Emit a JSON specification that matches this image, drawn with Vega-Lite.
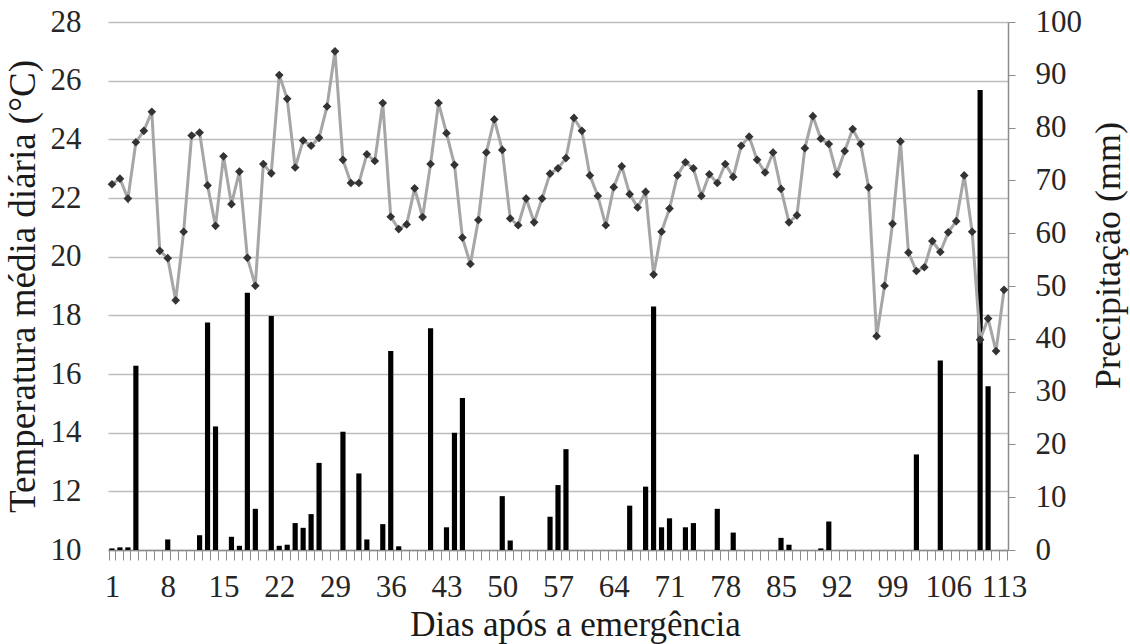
{
  "$schema": "https://vega.github.io/schema/vega-lite/v6.json",
  "width": 900,
  "height": 528,
  "autosize": "none",
  "padding": {"left": 108, "top": 22, "right": 122, "bottom": 94},
  "background": "white",
  "config": {
    "font": "Liberation Serif",
    "view": {"stroke": null},
    "axis": {"labelColor": "#262626", "titleColor": "#1a1a1a", "titleFontWeight": "normal", "labelFont": "Liberation Serif", "titleFont": "Liberation Serif"}
  },
  "data": {
    "values": [
      {"dia": 1, "temp": 22.47, "prec": 0.3},
      {"dia": 2, "temp": 22.66, "prec": 0.5},
      {"dia": 3, "temp": 21.98, "prec": 0.5},
      {"dia": 4, "temp": 23.9, "prec": 34.9},
      {"dia": 5, "temp": 24.29, "prec": 0},
      {"dia": 6, "temp": 24.94, "prec": 0},
      {"dia": 7, "temp": 20.2, "prec": 0},
      {"dia": 8, "temp": 19.95, "prec": 2.0},
      {"dia": 9, "temp": 18.51, "prec": 0},
      {"dia": 10, "temp": 20.85, "prec": 0},
      {"dia": 11, "temp": 24.13, "prec": 0},
      {"dia": 12, "temp": 24.23, "prec": 2.8},
      {"dia": 13, "temp": 22.43, "prec": 43.1},
      {"dia": 14, "temp": 21.05, "prec": 23.4},
      {"dia": 15, "temp": 23.42, "prec": 0},
      {"dia": 16, "temp": 21.79, "prec": 2.5},
      {"dia": 17, "temp": 22.9, "prec": 0.8},
      {"dia": 18, "temp": 19.96, "prec": 48.7},
      {"dia": 19, "temp": 19.01, "prec": 7.8},
      {"dia": 20, "temp": 23.16, "prec": 0},
      {"dia": 21, "temp": 22.84, "prec": 44.3},
      {"dia": 22, "temp": 26.19, "prec": 0.8},
      {"dia": 23, "temp": 25.38, "prec": 1.0},
      {"dia": 24, "temp": 23.04, "prec": 5.1},
      {"dia": 25, "temp": 23.96, "prec": 4.2},
      {"dia": 26, "temp": 23.78, "prec": 6.8},
      {"dia": 27, "temp": 24.05, "prec": 16.5},
      {"dia": 28, "temp": 25.12, "prec": 0},
      {"dia": 29, "temp": 27.0, "prec": 0},
      {"dia": 30, "temp": 23.3, "prec": 22.4},
      {"dia": 31, "temp": 22.51, "prec": 0},
      {"dia": 32, "temp": 22.51, "prec": 14.5},
      {"dia": 33, "temp": 23.49, "prec": 2.0},
      {"dia": 34, "temp": 23.26, "prec": 0},
      {"dia": 35, "temp": 25.24, "prec": 4.9},
      {"dia": 36, "temp": 21.36, "prec": 37.7},
      {"dia": 37, "temp": 20.94, "prec": 0.7},
      {"dia": 38, "temp": 21.1, "prec": 0},
      {"dia": 39, "temp": 22.33, "prec": 0},
      {"dia": 40, "temp": 21.35, "prec": 0},
      {"dia": 41, "temp": 23.16, "prec": 42.0},
      {"dia": 42, "temp": 25.24, "prec": 0},
      {"dia": 43, "temp": 24.21, "prec": 4.3},
      {"dia": 44, "temp": 23.13, "prec": 22.2},
      {"dia": 45, "temp": 20.65, "prec": 28.8},
      {"dia": 46, "temp": 19.75, "prec": 0},
      {"dia": 47, "temp": 21.25, "prec": 0},
      {"dia": 48, "temp": 23.55, "prec": 0},
      {"dia": 49, "temp": 24.68, "prec": 0},
      {"dia": 50, "temp": 23.64, "prec": 10.2},
      {"dia": 51, "temp": 21.3, "prec": 1.8},
      {"dia": 52, "temp": 21.07, "prec": 0},
      {"dia": 53, "temp": 21.98, "prec": 0},
      {"dia": 54, "temp": 21.17, "prec": 0},
      {"dia": 55, "temp": 21.98, "prec": 0},
      {"dia": 56, "temp": 22.83, "prec": 6.3},
      {"dia": 57, "temp": 23.01, "prec": 12.3},
      {"dia": 58, "temp": 23.36, "prec": 19.1},
      {"dia": 59, "temp": 24.73, "prec": 0},
      {"dia": 60, "temp": 24.29, "prec": 0},
      {"dia": 61, "temp": 22.77, "prec": 0},
      {"dia": 62, "temp": 22.07, "prec": 0},
      {"dia": 63, "temp": 21.07, "prec": 0},
      {"dia": 64, "temp": 22.37, "prec": 0},
      {"dia": 65, "temp": 23.08, "prec": 0},
      {"dia": 66, "temp": 22.13, "prec": 8.4},
      {"dia": 67, "temp": 21.68, "prec": 0},
      {"dia": 68, "temp": 22.21, "prec": 12.0},
      {"dia": 69, "temp": 19.39, "prec": 46.1},
      {"dia": 70, "temp": 20.85, "prec": 4.3},
      {"dia": 71, "temp": 21.64, "prec": 6.0},
      {"dia": 72, "temp": 22.77, "prec": 0},
      {"dia": 73, "temp": 23.22, "prec": 4.3},
      {"dia": 74, "temp": 23.01, "prec": 5.1},
      {"dia": 75, "temp": 22.07, "prec": 0},
      {"dia": 76, "temp": 22.81, "prec": 0},
      {"dia": 77, "temp": 22.51, "prec": 7.8},
      {"dia": 78, "temp": 23.16, "prec": 0},
      {"dia": 79, "temp": 22.72, "prec": 3.3},
      {"dia": 80, "temp": 23.78, "prec": 0},
      {"dia": 81, "temp": 24.09, "prec": 0},
      {"dia": 82, "temp": 23.3, "prec": 0},
      {"dia": 83, "temp": 22.87, "prec": 0},
      {"dia": 84, "temp": 23.55, "prec": 0},
      {"dia": 85, "temp": 22.31, "prec": 2.3},
      {"dia": 86, "temp": 21.17, "prec": 1.0},
      {"dia": 87, "temp": 21.41, "prec": 0},
      {"dia": 88, "temp": 23.7, "prec": 0},
      {"dia": 89, "temp": 24.79, "prec": 0},
      {"dia": 90, "temp": 24.02, "prec": 0.3},
      {"dia": 91, "temp": 23.84, "prec": 5.4},
      {"dia": 92, "temp": 22.81, "prec": 0},
      {"dia": 93, "temp": 23.6, "prec": 0},
      {"dia": 94, "temp": 24.35, "prec": 0},
      {"dia": 95, "temp": 23.84, "prec": 0},
      {"dia": 96, "temp": 22.36, "prec": 0},
      {"dia": 97, "temp": 17.29, "prec": 0},
      {"dia": 98, "temp": 19.01, "prec": 0},
      {"dia": 99, "temp": 21.12, "prec": 0},
      {"dia": 100, "temp": 23.93, "prec": 0},
      {"dia": 101, "temp": 20.14, "prec": 0},
      {"dia": 102, "temp": 19.51, "prec": 18.1},
      {"dia": 103, "temp": 19.64, "prec": 0},
      {"dia": 104, "temp": 20.53, "prec": 0},
      {"dia": 105, "temp": 20.16, "prec": 35.9},
      {"dia": 106, "temp": 20.83, "prec": 0},
      {"dia": 107, "temp": 21.21, "prec": 0},
      {"dia": 108, "temp": 22.77, "prec": 0},
      {"dia": 109, "temp": 20.85, "prec": 0},
      {"dia": 110, "temp": 17.17, "prec": 87.1},
      {"dia": 111, "temp": 17.89, "prec": 31.0},
      {"dia": 112, "temp": 16.78, "prec": 0},
      {"dia": 113, "temp": 18.87, "prec": 0}
    ]
  },
  "encoding": {
    "x": {
      "field": "dia",
      "type": "ordinal",
      "scale": {"paddingInner": 0.35, "paddingOuter": 0.175},
      "axis": {
        "title": "Dias após a emergência",
        "labelExpr": "(datum.value - 1) % 7 == 0 ? datum.label : ''",
        "labelAngle": 0,
        "labelOverlap": false,
        "labelFontSize": 31,
        "labelPadding": 12,
        "tickBand": "extent",
        "tickSize": 10,
        "tickColor": "#8c8c8c",
        "domainColor": "#8c8c8c",
        "domainWidth": 1.5,
        "titleFontSize": 35,
        "titlePadding": 5,
        "titleX": 467
      }
    }
  },
  "layer": [
    {
      "mark": {"type": "bar", "color": "#000000"},
      "encoding": {
        "y": {
          "field": "prec",
          "type": "quantitative",
          "scale": {"domain": [0, 100], "nice": false},
          "axis": {
            "orient": "right",
            "title": "Precipitação (mm)",
            "titleAngle": -90,
            "values": [0, 10, 20, 30, 40, 50, 60, 70, 80, 90, 100],
            "grid": false,
            "domainColor": "#8c8c8c",
            "domainWidth": 1.5,
            "tickColor": "#8c8c8c",
            "tickSize": 7,
            "labelFontSize": 31,
            "labelPadding": 20,
            "titleFontSize": 36,
            "titlePadding": 46,
            "titleY": 233
          }
        }
      }
    },
    {
      "mark": {"type": "line", "color": "#a6a6a6", "strokeWidth": 3},
      "encoding": {
        "y": {
          "field": "temp",
          "type": "quantitative",
          "scale": {"domain": [10, 28], "nice": false, "zero": false},
          "axis": {
            "orient": "left",
            "title": "Temperatura média diária (°C)",
            "values": [10, 12, 14, 16, 18, 20, 22, 24, 26, 28],
            "grid": true,
            "gridColor": "#bdbdbd",
            "gridWidth": 1.5,
            "domain": false,
            "ticks": false,
            "labelFontSize": 31,
            "labelPadding": 27,
            "titleFontSize": 37,
            "titlePadding": 8
          }
        }
      }
    },
    {
      "mark": {"type": "point", "shape": "diamond", "filled": true, "color": "#333333", "size": 75, "opacity": 1},
      "encoding": {
        "y": {
          "field": "temp",
          "type": "quantitative",
          "scale": {"domain": [10, 28], "nice": false, "zero": false},
          "axis": null
        }
      }
    }
  ],
  "resolve": {"scale": {"y": "independent"}, "axis": {"y": "independent"}}
}
